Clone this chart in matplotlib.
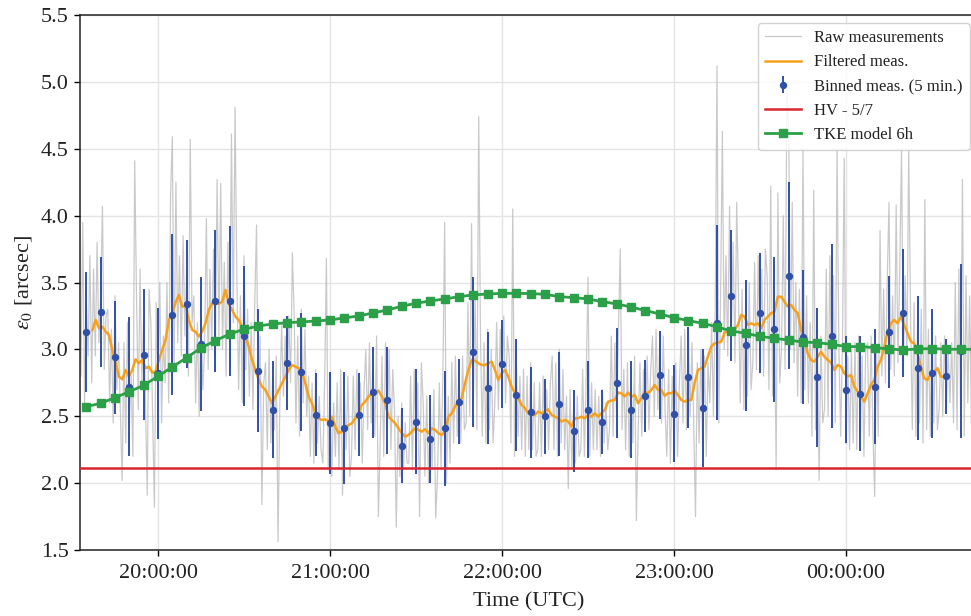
import numpy as np
import matplotlib
matplotlib.use("Agg")
import matplotlib.pyplot as plt

# ---------------- data ----------------
# raw measurements: samples every 0.625 min starting 19:32.5 (UTC)
raw_start_min = 19 * 60 + 32.5
raw_step_min = 0.625
raw_values = [
    3.45, 2.80, 3.95, 2.60, 3.35, 2.95, 3.70, 2.75,
    3.60, 2.95, 3.80, 3.05, 3.40, 4.07, 2.85, 3.25,
    3.30, 2.60, 3.15, 2.45, 3.40, 2.70, 3.05, 2.55,
    2.02, 3.05, 2.30, 3.20, 2.45, 2.80, 2.20, 4.41,
    3.40, 2.55, 3.60, 2.75, 3.25, 2.60, 1.91, 3.45,
    3.20, 2.50, 1.82, 3.35, 2.70, 3.50, 2.45, 3.10,
    2.75, 3.50, 2.60, 4.15, 4.59, 2.85, 4.25, 3.05,
    3.70, 2.95, 3.85, 3.10, 3.60, 2.80, 4.57, 3.20,
    3.40, 2.60, 3.20, 2.50, 3.30, 2.70, 3.00, 3.98,
    2.85, 3.60, 3.00, 3.75, 2.95, 4.27, 3.10, 4.24,
    3.00, 3.65, 2.80, 3.80, 3.05, 4.61, 3.20, 4.81,
    3.55, 2.70, 3.40, 2.60, 3.70, 2.85, 3.30, 2.65,
    3.20, 2.55, 3.35, 3.93, 2.50, 3.10, 1.84, 2.75,
    2.90, 2.25, 3.00, 2.30, 2.80, 2.40, 2.95, 1.56,
    2.60, 3.20, 2.65, 3.10, 2.55, 3.25, 2.75, 3.72,
    3.25, 2.45, 3.10, 2.35, 3.30, 2.60, 3.15, 2.50,
    2.80, 2.20, 2.75, 2.15, 2.85, 2.30, 2.65, 2.25,
    2.15, 2.75, 3.68, 2.10, 2.70, 2.05, 2.60, 2.20,
    2.75, 2.10, 2.85, 1.91, 2.70, 2.25, 2.80, 2.05,
    2.20, 2.80, 2.25, 2.85, 2.30, 2.75, 2.15, 2.70,
    3.00, 2.40, 3.05, 2.45, 2.95, 2.35, 3.10, 1.75,
    2.30, 2.95, 2.20, 3.05, 2.40, 3.00, 2.25, 2.85,
    2.55, 1.67, 2.50, 2.05, 2.60, 2.10, 2.45, 2.15,
    2.15, 2.80, 2.10, 2.85, 2.25, 2.75, 1.75, 2.90,
    2.60, 2.05, 2.65, 2.00, 2.55, 2.10, 2.70, 1.74,
    2.05, 2.75, 2.10, 2.80, 3.95, 2.00, 2.65, 2.15,
    2.90, 2.30, 2.95, 2.35, 2.85, 2.30, 2.95, 2.40,
    2.45, 3.35, 2.50, 3.94, 2.60, 3.40, 2.40, 4.74,
    3.10, 2.35, 3.05, 2.30, 3.15, 2.40, 3.00, 2.30,
    2.60, 3.20, 2.55, 3.15, 2.65, 3.25, 2.60, 3.10,
    2.95, 2.30, 4.05, 2.20, 2.90, 2.35, 2.80, 2.25,
    2.85, 2.20, 2.80, 2.25, 2.90, 2.25, 2.75, 2.20,
    2.25, 2.75, 2.20, 2.80, 2.30, 2.70, 2.25, 2.75,
    2.95, 2.25, 2.90, 2.20, 3.00, 2.30, 2.85, 2.25,
    2.65, 1.96, 2.70, 2.10, 2.60, 2.15, 2.65, 2.20,
    2.25, 2.85, 2.20, 2.80, 3.54, 2.20, 2.75, 2.25,
    2.70, 2.25, 2.65, 2.20, 2.70, 2.30, 2.60, 2.25,
    2.40, 3.10, 2.35, 3.05, 2.45, 3.15, 3.75, 2.40,
    2.85, 2.25, 2.90, 2.20, 2.85, 2.30, 2.95, 1.72,
    2.40, 2.90, 2.35, 2.85, 2.45, 2.95, 2.40, 2.85,
    3.10, 2.50, 3.15, 2.55, 3.05, 2.45, 3.10, 2.55,
    2.20, 2.85, 2.15, 2.80, 2.25, 2.90, 2.20, 2.75,
    3.10, 2.45, 3.15, 2.40, 3.15, 2.50, 3.05, 2.45,
    1.75, 2.90, 2.30, 3.00, 2.25, 2.95, 2.20, 2.90,
    2.60, 3.20, 2.50, 3.30, 5.12, 2.45, 3.40, 4.63,
    3.00, 3.70, 2.95, 4.07, 3.10, 3.80, 2.90, 4.10,
    3.40, 2.60, 3.45, 2.55, 3.35, 2.65, 3.50, 2.70,
    2.90, 3.65, 2.85, 3.70, 2.95, 3.60, 2.80, 3.75,
    3.55, 2.70, 4.22, 2.65, 3.50, 2.10, 4.17, 2.75,
    3.00, 4.00, 2.85, 4.95, 4.70, 3.00, 4.10, 2.90,
    3.50, 2.65, 3.45, 2.60, 4.50, 2.70, 3.40, 2.60,
    3.20, 2.35, 4.19, 2.40, 3.15, 2.02, 3.10, 2.45,
    2.55, 3.60, 2.50, 3.70, 2.60, 3.55, 2.45, 4.50,
    3.05, 2.35, 3.00, 4.43, 2.30, 2.95, 2.25, 3.00,
    2.30, 3.05, 2.25, 3.10, 2.35, 2.95, 2.20, 3.00,
    3.05, 2.35, 3.10, 2.40, 1.90, 3.00, 2.35, 3.89,
    2.80, 3.45, 2.75, 3.50, 4.10, 2.85, 3.40, 2.80,
    4.08, 2.90, 3.60, 4.50, 2.85, 3.55, 2.95, 4.50,
    3.30, 2.40, 3.35, 2.35, 3.25, 2.45, 3.30, 2.30,
    4.12, 2.40, 3.15, 2.35, 3.20, 2.45, 3.10, 2.40,
    2.55, 3.05, 2.50, 3.10, 2.55, 3.00, 2.60, 3.05,
    2.45, 3.50, 2.40, 3.60, 2.50, 4.27, 2.35, 3.55,
    2.60, 3.40, 2.45, 3.30,
]

# filtered measurements: minutes after 20:00 UTC (first, last)
filtered_first_min = -22.9
filtered_last_min = 275.4
filtered_values = [
    3.145, 3.220, 3.158, 3.170, 3.133, 3.108, 2.996, 2.896, 2.796, 2.776,
    2.846, 2.796, 2.846, 2.926, 2.896, 2.921, 2.859, 2.871, 2.826, 2.834,
    2.921, 2.996, 3.071, 3.220, 3.270, 3.350, 3.407, 3.320, 3.325, 3.220,
    3.145, 3.133, 3.095, 3.133, 3.195, 3.295, 3.345, 3.357, 3.340, 3.357,
    3.444, 3.340, 3.295, 3.245, 3.220, 3.170, 3.095, 3.021, 2.921, 2.846,
    2.771, 2.722,
    2.697, 2.647, 2.597, 2.647, 2.697, 2.746, 2.796, 2.846, 2.883, 2.871,
    2.859, 2.834, 2.746, 2.647, 2.597, 2.522, 2.485, 2.472, 2.477, 2.460,
    2.497, 2.423, 2.373, 2.385, 2.410, 2.435, 2.447, 2.485, 2.522, 2.585,
    2.609, 2.647, 2.672, 2.672, 2.692, 2.647, 2.597, 2.497, 2.472, 2.447,
    2.410, 2.373, 2.348, 2.360, 2.385, 2.410, 2.398, 2.385, 2.403, 2.373,
    2.410, 2.398, 2.373, 2.360, 2.385,
    2.497, 2.522, 2.572, 2.609, 2.634, 2.746, 2.846, 2.921, 2.916, 2.896,
    2.883, 2.883, 2.896, 2.908, 2.846, 2.771, 2.821, 2.846, 2.796, 2.722,
    2.672, 2.634, 2.585, 2.560, 2.522, 2.522, 2.510, 2.535, 2.522, 2.535,
    2.552, 2.510, 2.497, 2.485, 2.460, 2.472, 2.460, 2.423, 2.485, 2.485,
    2.497, 2.485, 2.510, 2.497, 2.522, 2.497, 2.522, 2.547, 2.609, 2.617,
    2.622, 2.677, 2.672, 2.647,
    2.677, 2.647, 2.659, 2.597, 2.634, 2.684, 2.672, 2.697, 2.734, 2.697,
    2.697, 2.652, 2.672, 2.672, 2.692, 2.659, 2.622, 2.609, 2.622, 2.622,
    2.746, 2.846, 2.859, 2.871, 2.946, 3.021, 3.045, 3.050, 3.058, 3.125,
    3.133, 3.125, 3.145, 3.183, 3.257, 3.245, 3.183, 3.195, 3.183, 3.195,
    3.158, 3.220, 3.245, 3.270, 3.282, 3.394, 3.394,
    3.357, 3.320, 3.332, 3.295, 3.270, 3.145, 3.071, 2.971, 2.921, 2.908,
    2.946, 2.983, 2.946, 2.921, 2.901, 2.846, 2.883, 2.871, 2.821, 2.796,
    2.809, 2.722, 2.684, 2.647, 2.609, 2.672, 2.734, 2.771, 2.871, 2.921,
    3.021, 3.133, 3.195, 3.220, 3.195, 3.245, 3.183, 3.120, 3.058, 3.045,
    2.971, 2.871, 2.784, 2.771, 2.816, 2.834, 2.859, 2.796, 2.796, 2.789,
]

# binned measurements every 5 min, first bin 19:35 UTC
bin_start_min = 19 * 60 + 35
bin_step_min = 5
binned_mean = [
    3.13, 3.28, 2.94, 2.72, 2.96, 2.82, 3.26, 3.34, 3.04, 3.36,
    3.36, 3.10, 2.84, 2.55, 2.90, 2.83, 2.51, 2.45, 2.41, 2.51,
    2.68, 2.62, 2.28, 2.46, 2.33, 2.41, 2.61, 2.98, 2.71, 2.89,
    2.66, 2.53, 2.50, 2.59, 2.39, 2.55, 2.46, 2.75, 2.55, 2.65,
    2.81, 2.52, 2.79, 2.56, 3.20, 3.40, 3.03, 3.27, 3.15, 3.55,
    3.09, 2.79, 3.10, 2.70, 2.67, 2.72, 3.13, 3.27, 2.86, 2.82,
    2.80, 2.99,
]
binned_err = [
    0.45, 0.41, 0.42, 0.52, 0.49, 0.49, 0.60, 0.48, 0.50, 0.53,
    0.56, 0.52, 0.46, 0.36, 0.35, 0.44, 0.31, 0.38, 0.42, 0.31,
    0.34, 0.40, 0.28, 0.39, 0.33, 0.43, 0.32, 0.56, 0.42, 0.33,
    0.42, 0.34, 0.28, 0.39, 0.31, 0.36, 0.24, 0.41, 0.36, 0.27,
    0.33, 0.36, 0.38, 0.44, 0.73, 0.49, 0.49, 0.45, 0.54, 0.70,
    0.50, 0.52, 0.69, 0.40, 0.43, 0.43, 0.42, 0.48, 0.54, 0.48,
    0.28, 0.65,
]

# HV 5/7 reference value
hv_value = 2.11

# TKE model 6h, every 5 min from 19:35 UTC
tke_values = [
    2.572, 2.597, 2.639, 2.684, 2.731, 2.799, 2.869, 2.938, 3.011, 3.065,
    3.115, 3.150, 3.175, 3.190, 3.200, 3.205, 3.212, 3.220, 3.235, 3.250,
    3.272, 3.295, 3.322, 3.345, 3.362, 3.377, 3.394, 3.407, 3.414, 3.419,
    3.419, 3.417, 3.412, 3.394, 3.387, 3.377, 3.357, 3.340, 3.317, 3.290,
    3.265, 3.237, 3.215, 3.195, 3.168, 3.138, 3.120, 3.098, 3.083, 3.069,
    3.055, 3.050, 3.038, 3.021, 3.021, 3.013, 3.003, 2.996, 3.003, 3.006,
    3.001, 3.001, 3.000,
]

tick_hours = [20, 21, 22, 23, 24]
tick_labels = ["20:00:00", "21:00:00", "22:00:00", "23:00:00", "00:00:00"]
y_ticks = [1.5, 2.0, 2.5, 3.0, 3.5, 4.0, 4.5, 5.0, 5.5]

# ---------------- derived time axes (hours UTC) ----------------
raw_t = (raw_start_min + raw_step_min * np.arange(len(raw_values))) / 60.0
filt_t = 20 + np.linspace(filtered_first_min, filtered_last_min, len(filtered_values)) / 60.0
bin_t = (bin_start_min + bin_step_min * np.arange(len(binned_mean))) / 60.0
tke_t = (bin_start_min + bin_step_min * np.arange(len(tke_values))) / 60.0

# ---------------- style ----------------
plt.rcParams['font.family'] = ['Liberation Serif', 'DejaVu Serif']
plt.rcParams['mathtext.fontset'] = 'stix'

W, H = 971, 616
fig = plt.figure(figsize=(W / 100, H / 100), dpi=100)
ax_left, ax_right = 80 / W, 978 / W
ax_bottom, ax_top = 1 - 550 / H, 1 - 15 / H
ax = fig.add_axes([ax_left, ax_bottom, ax_right - ax_left, ax_top - ax_bottom])

ax.grid(True, color='#e4e4e4', linewidth=1.0, zorder=0)
ax.set_axisbelow(True)

h_raw, = ax.plot(raw_t, raw_values, color='#b8b8b8', linewidth=0.9, alpha=0.75,
                 label='Raw measurements', zorder=1)
h_filt, = ax.plot(filt_t, filtered_values, color='#f7a01c', linewidth=1.8,
                  label='Filtered meas.', zorder=2)
h_bin = ax.errorbar(bin_t, binned_mean, yerr=binned_err, fmt='o', color='#3050a8',
                    markersize=4.3, elinewidth=1.4, capsize=0,
                    label='Binned meas. (5 min.)', zorder=3)
h_hv = ax.axhline(hv_value, color='#dc2430', linewidth=1.8, label='HV - 5/7', zorder=4)
h_tke, = ax.plot(tke_t, tke_values, color='#2ca048', linewidth=2.0, marker='s',
                 markersize=5.2, label='TKE model 6h', zorder=5)

x_left_h = 20 - (158 - 80) / 172.0
x_right_h = 20 + (978 - 158) / 172.0
ax.set_xlim(x_left_h, x_right_h)
ax.set_ylim(1.5, 5.5)
ax.set_xticks(tick_hours)
ax.set_xticklabels(tick_labels)
ax.set_yticks(y_ticks)
ax.set_yticklabels([f"{v:.1f}" for v in y_ticks])
ax.tick_params(axis='both', labelsize=16, length=4, width=1.0, color='black',
               labelcolor='#222222', direction='out')
ax.tick_params(axis='y', pad=4)
ax.tick_params(axis='x', pad=6)

for s in ['left', 'bottom', 'top']:
    ax.spines[s].set_color('#222222')
    ax.spines[s].set_linewidth(1.1)
ax.spines['right'].set_visible(False)

ax.set_xlabel('Time (UTC)', fontsize=16, color='#222222', labelpad=7)
ax.set_ylabel(r'$\epsilon_0$ [arcsec]', fontsize=16, color='#222222', labelpad=5)

handles = [h_raw, h_filt, h_bin, h_hv, h_tke]
labels = [h.get_label() for h in handles]
leg = ax.legend(handles, labels, loc='upper right', fontsize=12, framealpha=0.85,
                edgecolor='#cccccc', fancybox=True, handlelength=2.2,
                borderaxespad=0.5)
for txt in leg.get_texts():
    txt.set_color('#222222')

fig.savefig('out.png', dpi=100)
